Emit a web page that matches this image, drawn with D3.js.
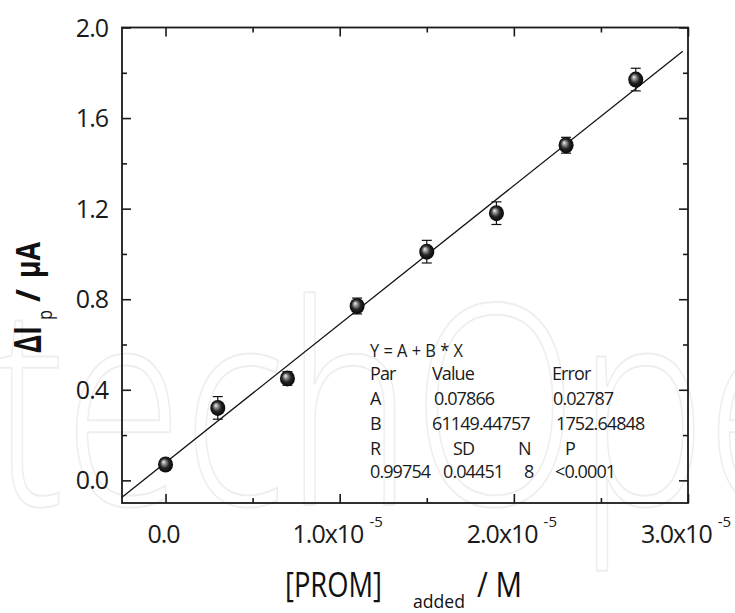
<!DOCTYPE html>
<html>
<head>
<meta charset="utf-8">
<script src="https://cdn.jsdelivr.net/npm/d3@7"></script>
<style>
  html, body { margin: 0; padding: 0; background: #fff; }
  svg { display: block; font-family: "Open Sans", "Noto Sans", sans-serif; }
</style>
</head>
<body>
<svg id="chart" width="735" height="613"></svg>
<script>
// calibration data: added PROM concentration (M) vs peak current change (µA)
var concAdded = [0, 0.3e-5, 0.7e-5, 1.1e-5, 1.5e-5, 1.9e-5, 2.3e-5, 2.7e-5];
var deltaIp   = [0.07, 0.32, 0.45, 0.77, 1.01, 1.18, 1.48, 1.77];
var errIp     = [0.02, 0.05, 0.03, 0.035, 0.05, 0.05, 0.035, 0.05];

// linear fit Y = A + B * X
var fitA = 0.07866, fitB = 61149.44757;
var fitSpan = [-0.25e-5, 2.97e-5];

var xMajor = [0, 1e-5, 2e-5, 3e-5];
var xMinor = [0.5e-5, 1.5e-5, 2.5e-5];
var xTickMain = ["0.0", "1.0x10", "2.0x10", "3.0x10"];
var xTickSup  = ["", "-5", "-5", "-5"];
var yMajor = [0, 0.4, 0.8, 1.2, 1.6, 2.0];
var yMinor = [0.2, 0.6, 1.0, 1.4, 1.8];

var statsRows = [
  ["Y = A + B * X"],
  ["Par", "Value", "Error"],
  ["A", "0.07866", "0.02787"],
  ["B", "61149.44757", "1752.64848"],
  ["R", "SD", "N", "P"],
  ["0.99754", "0.04451", "8", "<0.0001"]
];

(function () {
  var svg = d3.select("#chart");
  var L = 122, T = 27.5, R = 688, B = 503;

  var x = d3.scaleLinear().domain([-0.25e-5, 3.0e-5]).range([L, R]);
  var y = d3.scaleLinear().domain([-0.1, 2.0]).range([B, T]);

  var defs = svg.append("defs");
  var grad = defs.append("radialGradient").attr("id", "ball")
    .attr("cx", "50%").attr("cy", "50%").attr("r", "55%")
    .attr("fx", "36%").attr("fy", "33%");
  grad.append("stop").attr("offset", "0%").attr("stop-color", "#f4f4f4");
  grad.append("stop").attr("offset", "22%").attr("stop-color", "#9a9a9a");
  grad.append("stop").attr("offset", "55%").attr("stop-color", "#262626");
  grad.append("stop").attr("offset", "100%").attr("stop-color", "#000");

  // faint publisher watermark behind everything
  svg.append("text")
    .attr("x", -8).attr("y", 505)
    .attr("font-size", 280).attr("font-weight", 300)
    .attr("textLength", 960).attr("lengthAdjust", "spacingAndGlyphs")
    .attr("fill", "none").attr("stroke", "#eeeeee").attr("stroke-width", 2)
    .text("techOpen");

  // ticks (all inward) on four sides
  function ticks(axis, vals, size, tx, ty) {
    var g = svg.append("g").attr("transform", "translate(" + tx + "," + ty + ")")
      .call(axis.tickValues(vals).tickSize(-size).tickFormat(""));
    g.select(".domain").remove();
    g.selectAll("line").attr("stroke", "#1a1a1a").attr("stroke-width", 1.6);
    return g;
  }
  ticks(d3.axisBottom(x), xMajor, 9, 0, B);
  ticks(d3.axisBottom(x), xMinor, 5, 0, B);
  ticks(d3.axisTop(x), xMajor, 9, 0, T);
  ticks(d3.axisTop(x), xMinor, 5, 0, T);
  ticks(d3.axisLeft(y), yMajor, 9, L, 0);
  ticks(d3.axisLeft(y), yMinor, 5, L, 0);
  ticks(d3.axisRight(y), yMajor, 9, R, 0);
  ticks(d3.axisRight(y), yMinor, 5, R, 0);

  svg.append("rect").attr("x", L).attr("y", T)
    .attr("width", R - L).attr("height", B - T)
    .attr("fill", "none").attr("stroke", "#1a1a1a").attr("stroke-width", 1.8);

  // y tick labels
  svg.append("g").selectAll("text").data(yMajor).join("text")
    .attr("x", L - 14).attr("y", function (d) { return y(d) + 9; })
    .attr("text-anchor", "end").attr("font-size", 25).attr("letter-spacing", -1)
    .attr("fill", "#1a1a1a")
    .text(function (d) { return d.toFixed(1); });

  // x tick labels with superscript exponent
  var xl = svg.append("g").selectAll("text").data(xMajor).join("text")
    .attr("x", function (d) { return x(d) - 2; }).attr("y", 543)
    .attr("text-anchor", "middle").attr("fill", "#1a1a1a");
  xl.append("tspan").attr("font-size", 25).attr("letter-spacing", -1)
    .text(function (d, i) { return xTickMain[i]; });
  xl.append("tspan").attr("font-size", 15).attr("dx", 6).attr("dy", -16)
    .text(function (d, i) { return xTickSup[i]; });

  // fit line
  svg.append("line")
    .attr("x1", x(fitSpan[0])).attr("y1", y(fitA + fitB * fitSpan[0]))
    .attr("x2", x(fitSpan[1])).attr("y2", y(fitA + fitB * fitSpan[1]))
    .attr("stroke", "#111").attr("stroke-width", 1.3);

  var pts = concAdded.map(function (c, i) { return { c: c, v: deltaIp[i], e: errIp[i] }; });

  // error bars
  var eb = svg.append("g").attr("stroke", "#111").attr("stroke-width", 1.2);
  pts.forEach(function (p) {
    var cx = x(p.c), top = y(p.v + p.e), bot = y(p.v - p.e);
    eb.append("line").attr("x1", cx).attr("x2", cx).attr("y1", top).attr("y2", bot);
    eb.append("line").attr("x1", cx - 5).attr("x2", cx + 5).attr("y1", top).attr("y2", top);
    eb.append("line").attr("x1", cx - 5).attr("x2", cx + 5).attr("y1", bot).attr("y2", bot);
  });

  // sphere markers
  svg.append("g").selectAll("ellipse").data(pts).join("ellipse")
    .attr("cx", function (p) { return x(p.c); })
    .attr("cy", function (p) { return y(p.v); })
    .attr("rx", 7.5).attr("ry", 8)
    .attr("fill", "url(#ball)");

  // fit statistics block
  var colX = [[370], [370, 432, 552], [370, 434, 553], [370, 432, 556],
              [370, 453, 518, 565], [370, 443, 524, 555]];
  var rowY = [357, 380, 405, 430, 455, 478];
  var st = svg.append("g").attr("font-size", 18).attr("letter-spacing", -0.9).attr("fill", "#1a1a1a");
  statsRows.forEach(function (row, r) {
    row.forEach(function (s, c) {
      var t = st.append("text").attr("x", colX[r][c]).attr("y", rowY[r]).text(s);
      if (r === 0) t.attr("textLength", 93).attr("lengthAdjust", "spacingAndGlyphs").attr("letter-spacing", 0);
    });
  });

  // axis titles
  function piece(s, px, py, len, size, weight, rot) {
    var t = svg.append("text")
      .attr("transform", "translate(" + px + "," + py + ")" + (rot ? " rotate(-90)" : ""))
      .attr("font-size", size).attr("font-weight", weight).attr("fill", "#111")
      .attr("textLength", len).attr("lengthAdjust", "spacingAndGlyphs")
      .text(s);
    return t;
  }
  piece("\u0394I", 41, 353, 27, 37, 700, true);
  piece("p", 52, 320, 10, 20, 400, true);
  piece("/", 40, 302, 13, 34, 700, true);
  piece("\u00b5A", 40, 278, 36, 34, 700, true);

  piece("[PROM]", 285, 597, 97, 34, 400, false);
  piece("added", 413, 608, 52, 19, 400, false);
  piece("/ M", 477, 597, 45, 34, 400, false);
})();
</script>
</body>
</html>
